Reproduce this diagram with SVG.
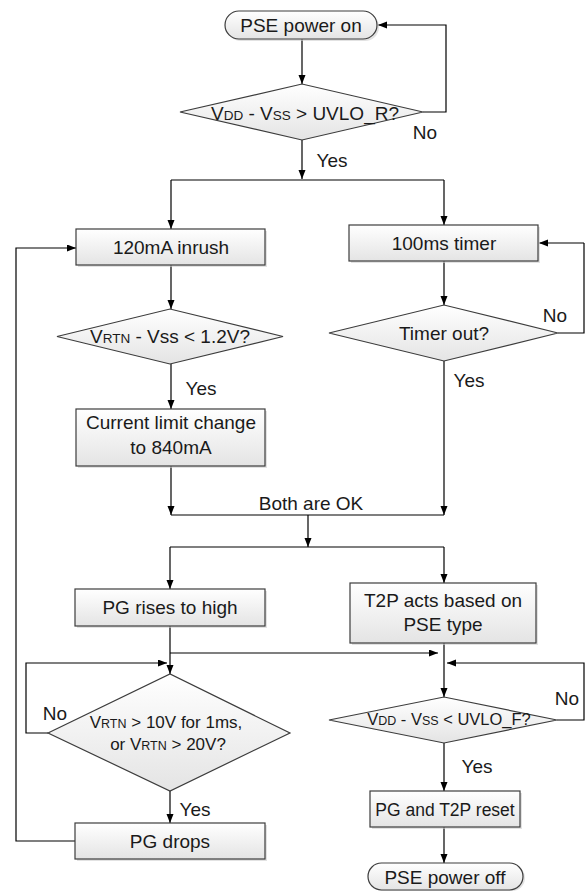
<svg xmlns="http://www.w3.org/2000/svg" width="585" height="892" viewBox="0 0 585 892">
<defs>
<linearGradient id="g" x1="0" y1="0" x2="0" y2="1">
<stop offset="0" stop-color="#ffffff"/>
<stop offset="1" stop-color="#e4e4e4"/>
</linearGradient>
<marker id="ah" markerUnits="userSpaceOnUse" markerWidth="10" markerHeight="8" refX="9" refY="3.5" orient="auto">
<path d="M0,0 L9,3.5 L0,7 z" fill="#000"/>
</marker>
</defs>
<style>
.box{fill:url(#g);stroke:#3c3c3c;stroke-width:1.2}
.sh{fill:#cfcfcf;opacity:0.6}
.t{font-family:"Liberation Sans",Arial,sans-serif;font-size:19px;fill:#1a1a1a;text-anchor:middle}
.s{font-size:13.5px}
.m{font-size:17px}
.ms{font-size:12.5px}
.m2{font-size:16.5px}
.r{font-size:17.5px}
.c{fill:none;stroke:#000;stroke-width:1.2}
.a{marker-end:url(#ah)}
</style>
<rect width="585" height="892" fill="#fff"/>

<g id="connectors">
<path class="c a" d="M302,39 V84"/>
<path class="c a" d="M423,112 H446 V25 H378"/>
<path class="c a" d="M302,140 V179"/>
<path class="c" d="M171,180 H444"/>
<path class="c a" d="M171,180 V229"/>
<path class="c a" d="M444,180 V225"/>
<path class="c a" d="M584,243 H539"/>
<path class="c" d="M558,333 H584 V243"/>
<path class="c a" d="M171,265 V309"/>
<path class="c a" d="M444,261 V305"/>
<path class="c a" d="M171,364 V409"/>
<path class="c a" d="M171,466 V515"/>
<path class="c a" d="M444,361 V515"/>
<path class="c" d="M171,515 H444"/>
<path class="c a" d="M308,515 V547"/>
<path class="c" d="M170,547 H444"/>
<path class="c a" d="M170,547 V589"/>
<path class="c a" d="M444,547 V583"/>
<path class="c a" d="M170,626 V674"/>
<path class="c a" d="M170,653 H438"/>
<path class="c a" d="M48,733 H26 V663 H167"/>
<path class="c a" d="M170,791 V823"/>
<path class="c a" d="M75,841 H16 V248 H76"/>
<path class="c a" d="M444,643 V697"/>
<path class="c a" d="M557,720 H584 V663 H447"/>
<path class="c a" d="M444,743 V791"/>
<path class="c a" d="M444,827 V863"/>
</g>

<g id="pse-on">
<rect class="sh" x="227" y="13" width="152" height="28" rx="14"/>
<rect class="box" x="225" y="11" width="152" height="28" rx="14"/>
<text class="t" x="301" y="32">PSE power on</text>
</g>

<g id="uvlo-r">
<polygon class="box" points="180,112 302,84 423,112 302,140"/>
<text class="t" x="305" y="120">V<tspan class="s">DD</tspan> - V<tspan class="s">SS</tspan> &gt; UVLO_R?</text>
</g>
<text class="t" x="425" y="139">No</text>
<text class="t" x="332" y="167">Yes</text>

<g id="inrush">
<rect class="sh" x="78" y="231" width="189" height="36"/>
<rect class="box" x="76" y="229" width="189" height="36"/>
<text class="t" x="171" y="254">120mA inrush</text>
</g>

<g id="timer">
<rect class="sh" x="351" y="227" width="189" height="36"/>
<rect class="box" x="349" y="225" width="189" height="36"/>
<text class="t" x="444" y="250">100ms timer</text>
</g>

<g id="vrtn-check">
<polygon class="box" points="57,336.5 170,309 283,336.5 170,364"/>
<text class="t" x="170" y="343">V<tspan class="s">RTN</tspan> - Vss &lt; 1.2V?</text>
</g>
<text class="t" x="201" y="395">Yes</text>

<g id="timer-out">
<polygon class="box" points="329,333 444,305 558,333 444,361"/>
<text class="t" x="444" y="340">Timer out?</text>
</g>
<text class="t" x="555" y="322">No</text>
<text class="t" x="469" y="387">Yes</text>

<g id="current-limit">
<rect class="sh" x="78" y="411" width="189" height="57"/>
<rect class="box" x="76" y="409" width="189" height="57"/>
<text class="t" x="171" y="429">Current limit change</text>
<text class="t" x="171" y="454">to 840mA</text>
</g>

<text class="t" x="311" y="510">Both are OK</text>

<g id="pg-rises">
<rect class="sh" x="77" y="591" width="190" height="37"/>
<rect class="box" x="75" y="589" width="190" height="37"/>
<text class="t" x="170" y="614">PG rises to high</text>
</g>

<g id="t2p">
<rect class="sh" x="352" y="585" width="186" height="60"/>
<rect class="box" x="350" y="583" width="186" height="60"/>
<text class="t" x="443" y="607">T2P acts based on</text>
<text class="t" x="443" y="631">PSE type</text>
</g>

<g id="vrtn-fault">
<polygon class="box" points="48,733 170,674 290,733 170,791"/>
<text class="t m" x="166" y="728">V<tspan class="ms">RTN</tspan> &gt; 10V for 1ms,</text>
<text class="t m" x="168" y="750">or V<tspan class="ms">RTN</tspan> &gt; 20V?</text>
</g>
<text class="t" x="55" y="720">No</text>
<text class="t" x="195" y="816">Yes</text>

<g id="uvlo-f">
<polygon class="box" points="329,720 444,697 557,720 444,743"/>
<text class="t m2" x="449" y="725">V<tspan class="ms">DD</tspan> - V<tspan class="ms">SS</tspan> &lt; UVLO_F?</text>
</g>
<text class="t" x="567" y="705">No</text>
<text class="t" x="477" y="773">Yes</text>

<g id="pg-drops">
<rect class="sh" x="77" y="825" width="190" height="36"/>
<rect class="box" x="75" y="823" width="190" height="36"/>
<text class="t" x="170" y="848">PG drops</text>
</g>

<g id="reset">
<rect class="sh" x="372" y="793" width="150" height="36"/>
<rect class="box" x="370" y="791" width="150" height="36"/>
<text class="t r" x="445" y="815.5">PG and T2P reset</text>
</g>

<g id="pse-off">
<rect class="sh" x="370" y="865" width="155" height="26" rx="13"/>
<rect class="box" x="368" y="863" width="155" height="27" rx="13.5"/>
<text class="t" x="445" y="884">PSE power off</text>
</g>
</svg>
